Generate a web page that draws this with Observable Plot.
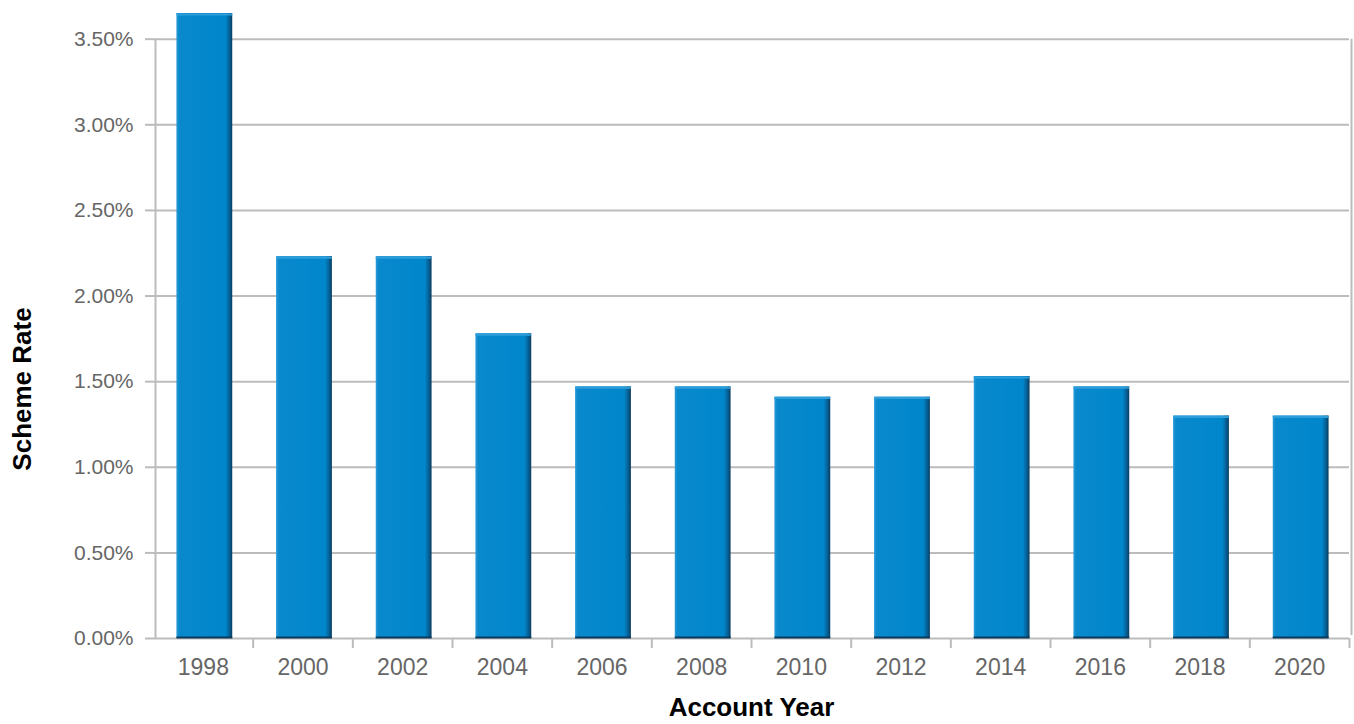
<!DOCTYPE html>
<html>
<head>
<meta charset="utf-8">
<script src="https://cdn.jsdelivr.net/npm/d3@7"></script>
<script src="https://cdn.jsdelivr.net/npm/@observablehq/plot@0.6"></script>
<style>
  html, body { margin: 0; padding: 0; background: #fff; }
  #chart { width: 1354px; height: 724px; }
</style>
</head>
<body>
<div id="chart"></div>
<script>
// Data
const years = ["1998", "2000", "2002", "2004", "2006", "2008", "2010", "2012", "2014", "2016", "2018", "2020"];
const rates = [3.65, 2.23, 2.23, 1.78, 1.47, 1.47, 1.41, 1.41, 1.53, 1.47, 1.30, 1.30];
const yTicks = [0, 0.5, 1.0, 1.5, 2.0, 2.5, 3.0, 3.5];
const yLabels = ["0.00%", "0.50%", "1.00%", "1.50%", "2.00%", "2.50%", "3.00%", "3.50%"];

const data = years.map((year, i) => ({year, i, rate: rates[i]}));
const boundaries = d3.range(1, years.length + 1);
const centers = d3.range(0, years.length).map(i => i + 0.5);

const barLeft = 0.235, barRight = 0.795;
const grid = "#bcbcbc";
const font = "'Liberation Sans', Arial, Helvetica, sans-serif";

const chart = Plot.plot({
  width: 1354,
  height: 724,
  marginTop: 13,
  marginBottom: 86,
  marginLeft: 153,
  marginRight: 5,
  style: {fontFamily: font, background: "#fff"},
  x: {type: "linear", domain: [0, years.length], axis: null},
  y: {domain: [0, 3.65], axis: null},
  marks: [
    // horizontal gridlines
    Plot.ruleY(yTicks, {x1: 0, x2: years.length, stroke: grid, strokeWidth: 2}),
    // left axis line and right border line
    Plot.ruleX([0], {y1: 0, y2: 3.5, stroke: grid, strokeWidth: 2, dx: 2}),
    Plot.ruleX([years.length], {y1: 0, y2: 3.5, stroke: grid, strokeWidth: 2, insetTop: -3, dx: 2}),
    // y axis ticks and labels
    Plot.axisY({
      ticks: yTicks,
      tickFormat: d => yLabels[yTicks.indexOf(d)],
      tickSize: 8,
      tickPadding: 12,
      fontSize: 21,
      stroke: grid,
      strokeWidth: 2,
      fill: "#666",
      label: null
    }),
    // x axis boundary ticks
    Plot.axisX({
      ticks: boundaries,
      tickSize: 10,
      tickFormat: () => "",
      stroke: grid,
      strokeWidth: 2,
      label: null
    }),
    // x axis labels
    Plot.axisX({
      ticks: centers,
      tickSize: 0,
      tickPadding: 20,
      tickFormat: d => years[Math.floor(d)],
      fontSize: 23,
      fill: "#666",
      label: null
    }),
    // bars
    Plot.rectY(data, {
      x1: d => d.i + barLeft,
      x2: d => d.i + barRight,
      y1: 0,
      y2: "rate",
      fill: "url(#barGrad)"
    }),
    // top highlight
    Plot.ruleY(data, {
      x1: d => d.i + barLeft,
      x2: d => d.i + barRight,
      y: "rate",
      stroke: "#2e9edb",
      strokeWidth: 2,
      dy: 1
    }),
    // bottom shade
    Plot.ruleY(data, {
      x1: d => d.i + barLeft,
      x2: d => d.i + barRight,
      y: 0,
      stroke: "#0b3a5c",
      strokeWidth: 2,
      dy: -1
    }),
    // axis titles
    Plot.text(["Account Year"], {
      frameAnchor: "bottom",
      dy: 69,
      lineAnchor: "middle",
      textAnchor: "middle",
      fontSize: 26,
      fontWeight: "bold",
      fill: "#000"
    }),
    Plot.text(["Scheme Rate"], {
      frameAnchor: "left",
      rotate: -90,
      dx: -131,
      dy: 63,
      lineAnchor: "middle",
      textAnchor: "middle",
      fontSize: 26,
      fontWeight: "bold",
      fill: "#000"
    })
  ]
});

chart.insertAdjacentHTML("afterbegin",
  `<defs>
    <linearGradient id="barGrad" x1="0" y1="0" x2="1" y2="0">
      <stop offset="0" stop-color="#2b9bd7"/>
      <stop offset="0.05" stop-color="#0a89cd"/>
      <stop offset="0.88" stop-color="#0086cb"/>
      <stop offset="0.94" stop-color="#05669e"/>
      <stop offset="1" stop-color="#0a3d60"/>
    </linearGradient>
  </defs>`);

document.getElementById("chart").appendChild(chart);
</script>
</body>
</html>
